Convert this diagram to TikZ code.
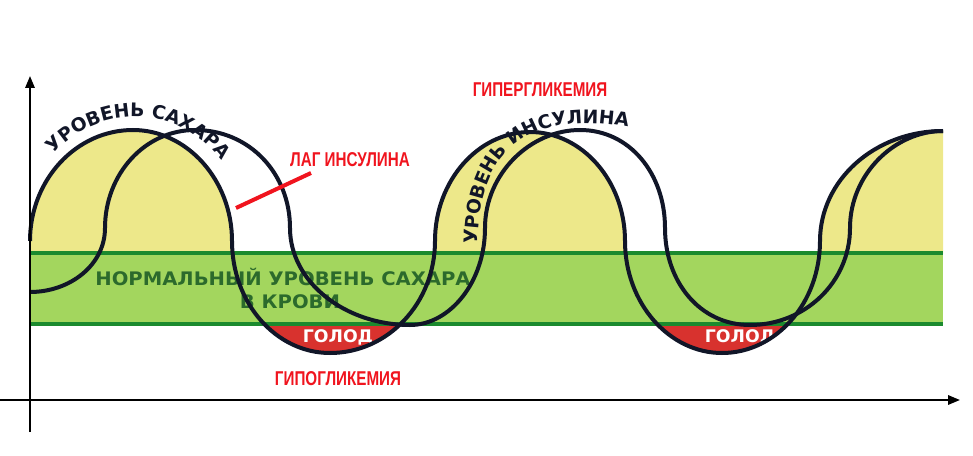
\documentclass[tikz,border=0pt]{standalone}
\usepackage{fontspec}
\setmainfont{DejaVu Sans}
\newfontfamily\redfont{Liberation Sans}
\usetikzlibrary{decorations.text,arrows.meta}
\definecolor{curvec}{HTML}{111628}
\definecolor{bandc}{HTML}{A3D65E}
\definecolor{bandl}{HTML}{1B8A2E}
\definecolor{yel}{HTML}{EDE88A}
\definecolor{redc}{HTML}{D8322E}
\definecolor{labred}{HTML}{F0141E}
\definecolor{txtgreen}{HTML}{2C6A2C}
\tikzset{
  curve/.style={draw=curvec,line width=3pt},
  axis/.style={draw=black,line width=1.6pt,-{Triangle[length=9pt,width=7pt]}},
  redlab/.style={text=labred,font=\redfont\bfseries\fontsize{15}{16}\selectfont,xscale=0.76},
  bandtxt/.style={text=txtgreen,font=\bfseries\fontsize{14}{16}\selectfont,xscale=1.05},
  hunger/.style={text=white,font=\bfseries\fontsize{13}{15}\selectfont}
}
\begin{document}
\begin{tikzpicture}[x=0.75pt,y=-0.75pt]
\useasboundingbox (0,0) rectangle (973,456);
\def\sugar{(30,241) .. controls (30,180) and (76,130) .. (133,130)
 .. controls (187,130) and (232,180) .. (232,241)
 .. controls (232,303) and (276,353) .. (330,353)
 .. controls (388,353) and (435,303) .. (435,241)
 .. controls (435,181) and (478,132) .. (530,132)
 .. controls (582,132) and (625,181) .. (625,241)
 .. controls (625,303) and (669,353) .. (722,353)
 .. controls (776,353) and (820,303) .. (820,241)
 .. controls (820,180) and (875,131) .. (943,131)}
\def\insulin{(30,292) .. controls (70,292) and (105,265) .. (105,228)
 .. controls (105,174) and (145,130) .. (195,130)
 .. controls (250,130) and (290,174) .. (290,228)
 .. controls (290,282) and (345,325) .. (410,325)
 .. controls (450,325) and (485,282) .. (485,228)
 .. controls (485,174) and (530,130) .. (580,130)
 .. controls (630,130) and (665,174) .. (665,228)
 .. controls (665,282) and (700,325) .. (750,325)
 .. controls (805,325) and (850,282) .. (850,228)
 .. controls (850,174) and (895,131) .. (943,131)}
% band
\fill[bandc] (30,253) rectangle (943,324);
% yellow
\begin{scope}
\clip (30,0) rectangle (943,253);
\fill[yel] \sugar -- (943,420) -- (30,420) -- cycle;
\end{scope}
% red
\begin{scope}
\clip (30,324) rectangle (943,420);
\fill[redc] \sugar -- (943,0) -- (30,0) -- cycle;
\end{scope}
\draw[bandl,line width=2.5pt] (30,253) -- (943,253) (30,324) -- (943,324);
% texts in band
\node[bandtxt] (norm) at (283,277) {НОРМАЛЬНЫЙ УРОВЕНЬ САХАРА};
\node[bandtxt] (krov) at (290,302) {В КРОВИ};
\node[hunger] (g1) at (338,337) {ГОЛОД};
\node[hunger] (g2) at (740,337) {ГОЛОД};
% curves
\draw[curve] \sugar;
\draw[curve] \insulin;
% axes
\coordinate (yb) at (30,432); \coordinate (yt) at (30,76);
\coordinate (xl) at (0,400); \coordinate (xr) at (960,400);
\draw[axis] (yb) -- (yt);
\draw[axis] (xl) -- (xr);
% curved labels
\path[decorate,decoration={text along path,text align=center,
  text={|\bfseries\fontsize{14}{16}\selectfont\color{curvec}|УРОВЕНЬ САХАРА}}]
  (135,225) ++(-150:108) arc[start angle=-150,end angle=-25,radius=108];
\path[decorate,decoration={text along path,text align=center,
  text={|\bfseries\fontsize{14}{16}\selectfont\color{curvec}|УРОВЕНЬ ИНСУЛИНА}}]
  (478,248) .. controls (476,150) and (530,108) .. (632,128);
% red labels
\node[redlab] (lag) at (350,160) {ЛАГ ИНСУЛИНА};
\node[redlab] (hyper) at (540,90) {ГИПЕРГЛИКЕМИЯ};
\node[redlab] (hypo) at (338,379) {ГИПОГЛИКЕМИЯ};
\coordinate (lagpt) at (236,208);
\draw[labred,line width=3pt] (lagpt) -- (311,173);
\end{tikzpicture}
\end{document}
